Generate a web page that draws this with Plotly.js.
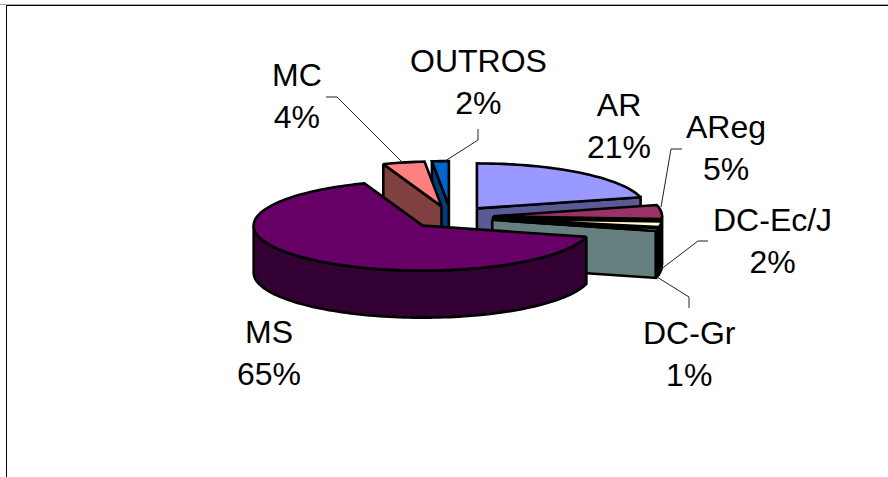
<!DOCTYPE html>
<html>
<head>
<meta charset="utf-8">
<script src="https://cdn.plot.ly/plotly-3.0.1.min.js"></script>
<style>html,body{margin:0;padding:0;background:#fff}#chart{width:888px;height:477px}</style>
</head>
<body>
<div id="chart"></div>
<script>
// Data (angles follow from these shares)
var categories = ["AR", "AReg", "DC-Ec/J", "DC-Gr", "MS", "MC", "OUTROS"];
var shares = [21, 5, 2, 1, 65.4, 4, 1.6];
var percentLabels = ["21%", "5%", "2%", "1%", "65%", "4%", "2%"];

// Styles
var topColors = ["#9999FF", "#993366", "#FFFFCC", "#CCFFFF", "#660066", "#FF8080", "#0066CC"];
var sideColors = ["#5A5A96", "#000000", "#000000", "#668080", "#330033", "#804040", "#003D7A"];
var drawOrder = [0, 6, 5, 1, 2, 3, 4];

// Pie projection
var cx = 451, cy = 217.3, rx = 169, ry = 45, depth = 47, explode = 0.25;

// Label placement
var labelX = [619, 726, 772, 689, 269, 297, 478];
var labelY = [125.5, 148, 241, 354, 352.5, 96, 82];

var total = shares.reduce(function (a, b) { return a + b; }, 0);
var slices = [], running = 0;
shares.forEach(function (v, i) {
  var a0 = running / total * 2 * Math.PI;
  running += v;
  var a1 = running / total * 2 * Math.PI;
  var mid = (a0 + a1) / 2;
  slices.push({ i: i, a0: a0, a1: a1,
    ax: cx + rx * explode * Math.sin(mid),
    ay: cy - ry * explode * Math.cos(mid) });
});

function rimPoint(s, a, dz) {
  return [s.ax + rx * Math.sin(a), s.ay - ry * Math.cos(a) + dz];
}
function poly(points, fill) {
  var xs = points.map(function (p) { return p[0]; });
  var ys = points.map(function (p) { return p[1]; });
  xs.push(xs[0]); ys.push(ys[0]);
  return { type: "scatter", mode: "lines", x: xs, y: ys, fill: "toself", fillcolor: fill,
    line: { color: "#000", width: 2.6, simplify: false }, hoverinfo: "skip", showlegend: false };
}
function arc(s, from, to, dz) {
  var n = Math.max(2, Math.ceil(Math.abs(to - from) / 0.03)), out = [];
  for (var k = 0; k <= n; k++) out.push(rimPoint(s, from + (to - from) * k / n, dz));
  return out;
}

var traces = [];
drawOrder.forEach(function (idx) {
  var s = slices[idx], apex = [s.ax, s.ay], apexLow = [s.ax, s.ay + depth];
  var side = sideColors[idx];
  if (Math.sin(s.a0) < -1e-6) {
    traces.push(poly([apex, rimPoint(s, s.a0, 0), rimPoint(s, s.a0, depth), apexLow], side));
  }
  if (Math.sin(s.a1) > 1e-6) {
    traces.push(poly([apex, rimPoint(s, s.a1, 0), rimPoint(s, s.a1, depth), apexLow], side));
  }
  var lo = Math.max(s.a0, Math.PI / 2), hi = Math.min(s.a1, 3 * Math.PI / 2);
  if (hi > lo) {
    traces.push(poly(arc(s, lo, hi, 0).concat(arc(s, hi, lo, depth)), side));
  }
  traces.push(poly([apex].concat(arc(s, s.a0, s.a1, 0)), topColors[idx]));
});

// Leader lines
var leaderX = [[682, 671, 661], [708, 698, 660], [657, 689, 689], [326, 337, 403], [478, 478, 442]];
var leaderY = [[149, 149, 207], [241, 241, 270], [277, 297, 308], [97, 97, 163], [129, 140, 163]];
leaderX.forEach(function (xs, k) {
  traces.push({ type: "scatter", mode: "lines", x: xs, y: leaderY[k],
    line: { color: "#222", width: 1 }, hoverinfo: "skip", showlegend: false });
});

var annotations = categories.map(function (c, i) {
  return { x: labelX[i], y: labelY[i], xref: "x", yref: "y", showarrow: false,
    xanchor: "center", yanchor: "middle", align: "center",
    text: c + "<br>" + percentLabels[i],
    font: { family: "Liberation Sans, Arial, sans-serif", size: 32, color: "#000" } };
});

var hidden = { range: [0, 888], visible: false, fixedrange: true };
var layout = {
  width: 888, height: 477, margin: { l: 0, r: 0, t: 0, b: 0 },
  paper_bgcolor: "#fff", plot_bgcolor: "#fff", showlegend: false, hovermode: false,
  xaxis: hidden,
  yaxis: { range: [477, 0], visible: false, fixedrange: true },
  annotations: annotations,
  shapes: [
    { type: "line", xref: "x", yref: "y", x0: 0, x1: 888, y0: 4.5, y1: 4.5, line: { color: "#aaa", width: 1 } },
    { type: "line", xref: "x", yref: "y", x0: 6, x1: 888, y0: 5.5, y1: 5.5, line: { color: "#000", width: 1 } },
    { type: "line", xref: "x", yref: "y", x0: 6.5, x1: 6.5, y0: 5, y1: 477, line: { color: "#000", width: 1 } }
  ]
};
Plotly.newPlot("chart", traces, layout, { displayModeBar: false, staticPlot: true });
</script>
</body>
</html>
